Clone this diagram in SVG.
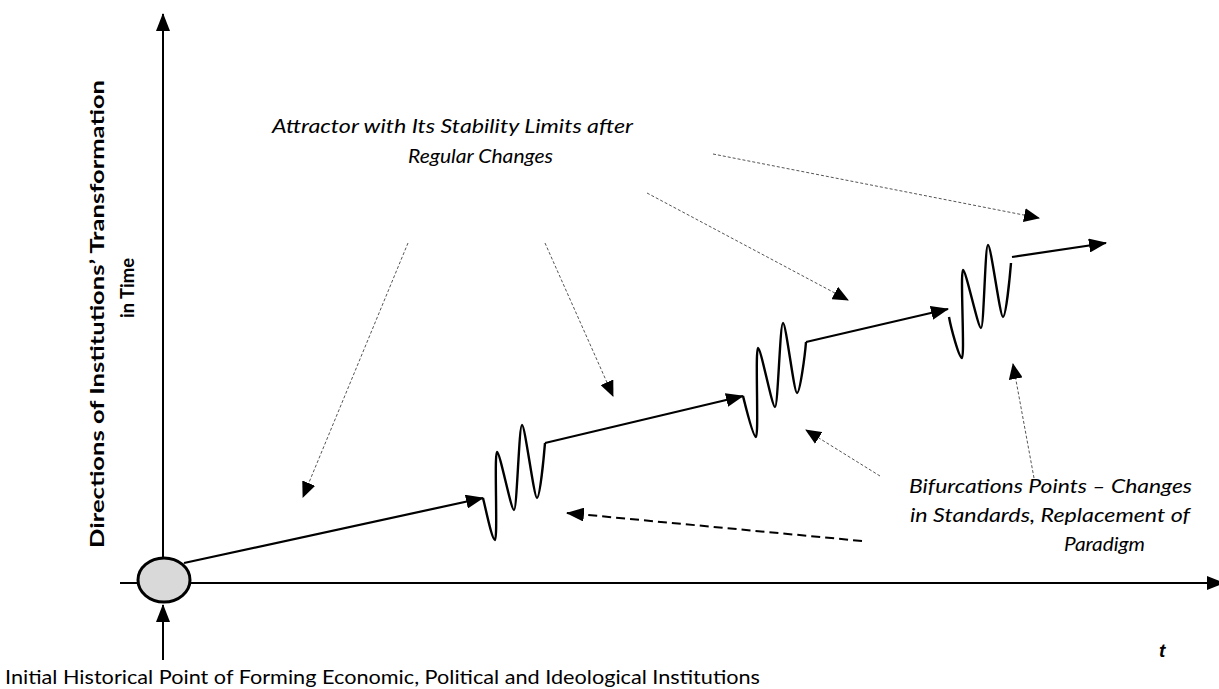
<svg xmlns="http://www.w3.org/2000/svg" width="1219" height="689" viewBox="0 0 1219 689">
<style>
.axis{stroke:#000;stroke-width:2;fill:none}
.main{stroke:#000;stroke-width:2.2;fill:none}
.wave{stroke:#000;stroke-width:2.4;fill:none;stroke-linejoin:round}
.dot{stroke:#555;stroke-width:1;stroke-dasharray:3 2;fill:none}
.dash{stroke:#000;stroke-width:2;stroke-dasharray:9 5;fill:none}
.lbl{font-family:Lato,"Noto Sans",sans-serif;font-size:19px;fill:#000}
.it{font-style:italic}
</style>
<defs>
<marker id="ah" markerUnits="userSpaceOnUse" markerWidth="18" markerHeight="14" refX="17" refY="7" orient="auto" viewBox="0 0 18 14">
<path d="M0,0 L18,7 L0,14 z" fill="#000"/>
</marker>
<marker id="ahd" markerUnits="userSpaceOnUse" markerWidth="16" markerHeight="14" refX="15" refY="7" orient="auto" viewBox="0 0 16 14">
<path d="M0,0 L16,7 L0,14 z" fill="#000"/>
</marker>
</defs>
<g id="axes">
<line class="axis" x1="163" y1="600" x2="163" y2="14" marker-end="url(#ah)"/>
<line class="axis" x1="120" y1="583" x2="1224" y2="583" marker-end="url(#ah)"/>
<line class="axis" x1="163" y1="660" x2="163" y2="605" marker-end="url(#ah)"/>
</g>
<g id="origin">
<ellipse cx="164" cy="580" rx="26" ry="22" fill="#d9d9d9" stroke="#000" stroke-width="3"/>
</g>
<g id="connectors">
<line class="main" x1="184" y1="563" x2="483" y2="498" marker-end="url(#ah)"/>
<path class="wave" d="M483,498 C486,510 492,540 495,540 C498,540 494,452 497,452 C500,452 511,510 514,510 C517,510 519,425 522,425 C525,425 534,498 537,498 C540,498 544,455 545,443"/>
<line class="main" x1="545" y1="443" x2="743" y2="396" marker-end="url(#ah)"/>
<path class="wave" d="M743,396 C746,408 753,437 756,437 C759,437 755,348 758,348 C761,348 772,407 775,407 C778,407 780,323 783,323 C786,323 794,393 797,393 C800,393 805,355 806,342"/>
<line class="main" x1="806" y1="342" x2="948" y2="309" marker-end="url(#ah)"/>
<path class="wave" d="M949,317 C951,328 959,358 962,358 C965,358 960,270 963,270 C966,270 978,328 981,328 C984,328 985,245 988,245 C991,245 1000,317 1003,317 C1006,317 1010,275 1011,263"/>
<line class="main" x1="1012" y1="257" x2="1106" y2="243" marker-end="url(#ah)"/>
<line class="dot" x1="408" y1="243" x2="303" y2="497" marker-end="url(#ahd)"/>
<line class="dot" x1="545" y1="243" x2="613" y2="396" marker-end="url(#ahd)"/>
<line class="dot" x1="647" y1="193" x2="848" y2="300" marker-end="url(#ahd)"/>
<line class="dot" x1="713" y1="154" x2="1039" y2="218" marker-end="url(#ahd)"/>
<line class="dot" x1="1034" y1="478" x2="1013" y2="364" marker-end="url(#ahd)"/>
<line class="dot" x1="880" y1="476" x2="806" y2="430" marker-end="url(#ahd)"/>
<line class="dash" x1="862" y1="541" x2="567" y2="513" marker-end="url(#ah)"/>
</g>
<g id="attractor-label">
<text class="lbl it" x="272" y="133" textLength="361" lengthAdjust="spacingAndGlyphs">Attractor with Its Stability Limits after</text>
<text class="lbl it" x="408" y="163" textLength="145" lengthAdjust="spacingAndGlyphs">Regular Changes</text>
</g>
<g id="bifurcation-label">
<text class="lbl it" x="909" y="493" textLength="283" lengthAdjust="spacingAndGlyphs">Bifurcations Points – Changes</text>
<text class="lbl it" x="910" y="522" textLength="280" lengthAdjust="spacingAndGlyphs">in Standards, Replacement of</text>
<text class="lbl it" x="1064" y="551" textLength="81" lengthAdjust="spacingAndGlyphs">Paradigm</text>
</g>
<g id="y-label">
<text class="lbl" font-weight="bold" transform="translate(104,314) rotate(-90)" text-anchor="middle" textLength="468" lengthAdjust="spacingAndGlyphs">Directions of Institutions’ Transformation</text>
<text class="lbl" font-weight="bold" transform="translate(134,288) rotate(-90)" text-anchor="middle" textLength="60" lengthAdjust="spacingAndGlyphs">in Time</text>
</g>
<g id="t-label">
<text x="1159" y="657" font-family="Liberation Sans, Arial, sans-serif" font-size="19" font-weight="bold" font-style="italic">t</text>
</g>
<g id="initial-label">
<text class="lbl" x="5" y="684" textLength="755" lengthAdjust="spacingAndGlyphs">Initial Historical Point of Forming Economic, Political and Ideological Institutions</text>
</g>
</svg>
